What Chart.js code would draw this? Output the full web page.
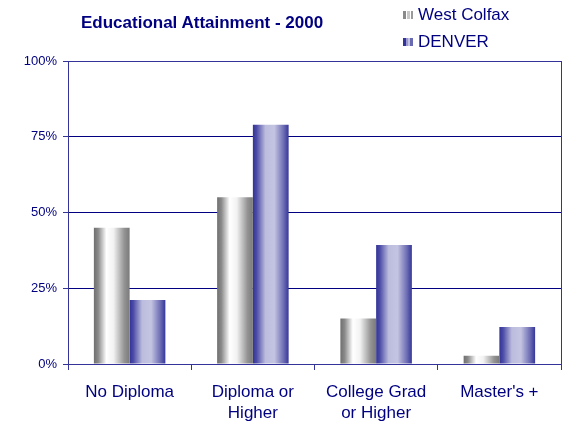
<!DOCTYPE html>
<html>
<head>
<meta charset="utf-8">
<script src="https://cdn.jsdelivr.net/npm/chart.js@4/dist/chart.umd.min.js"></script>
<style>
  html, body { margin: 0; padding: 0; background: #fff; }
  #wrap { position: relative; width: 568px; height: 423px; font-family: Arial, "Liberation Sans", sans-serif; color: #000080; }
  #title { position: absolute; left: 81px; top: 13px; font-size: 17px; font-weight: bold; line-height: 20px; white-space: nowrap; }
  .item { position: absolute; left: 403px; font-size: 17px; line-height: 20px; white-space: nowrap; }
  .item i { display: inline-block; width: 10px; height: 8px; margin-right: 5px; vertical-align: 1px; }
  #lg-wc { top: 5px; }
  #lg-dn { top: 32px; }
  #lg-wc i { background: linear-gradient(to right, #8a8a8a 0 3px, #fff 3px 4px, #c8c8c8 4px 7px, #fff 7px 8px, #9a9a9a 8px 10px); }
  #lg-dn i { background: linear-gradient(to right, #333399 0 3px, #9a9ad0 3px 5px, #c4c4e2 5px 7px, #6a6ab4 7px 10px); }
</style>
</head>
<body>
<div id="wrap">
  <canvas id="chart" width="568" height="423"></canvas>
  <div id="title">Educational Attainment - 2000</div>
  <div class="item" id="lg-wc"><i></i>West Colfax</div>
  <div class="item" id="lg-dn"><i></i>DENVER</div>
</div>
<script>
const categories = ['No Diploma', ['Diploma or', 'Higher'], ['College Grad', 'or Higher'], "Master's +"]
const westColfax = [45, 55, 15, 2.7]
const denver = [21.1, 79, 39.3, 12.2]
const yTicks = [0, 25, 50, 75, 100]

const NAVY = '#000080'
const AXIS = '#333399'

// cylinder-style shading across each bar
const shades = {
  gray: [[0, '#6f6f6f'], [0.12, '#8a8a8a'], [0.35, '#ffffff'], [0.55, '#f2f2f2'], [0.85, '#939393'], [1, '#7a7a7a']],
  blue: [[0, '#333399'], [0.1, '#4a4aa6'], [0.35, '#bcbcde'], [0.6, '#c4c4e2'], [0.85, '#7070b6'], [1, '#363699']],
}

const barShading = {
  id: 'barShading',
  beforeDatasetsDraw(chart) {
    const ctx = chart.ctx
    chart.data.datasets.forEach((ds, i) => {
      const meta = chart.getDatasetMeta(i)
      meta.data.forEach((bar) => {
        const { x, width } = bar.getProps(['x', 'width'], true)
        const g = ctx.createLinearGradient(x - width / 2, 0, x + width / 2, 0)
        shades[ds.shade].forEach(([p, c]) => g.addColorStop(p, c))
        bar.options = Object.assign({}, bar.options, { backgroundColor: g })
      })
    })
  },
}

const plotFrame = {
  id: 'plotFrame',
  afterDraw(chart) {
    const { left, top, right, bottom } = chart.chartArea
    const ctx = chart.ctx
    ctx.save()
    ctx.strokeStyle = AXIS
    ctx.lineWidth = 1
    ctx.strokeRect(Math.round(left) + 0.5, Math.round(top) + 0.5, Math.round(right - left), Math.round(bottom - top))
    ctx.restore()
  },
}

new Chart(document.getElementById('chart'), {
  type: 'bar',
  data: {
    labels: categories,
    datasets: [
      { label: 'West Colfax', data: westColfax, shade: 'gray', backgroundColor: '#bbbbbb' },
      { label: 'DENVER', data: denver, shade: 'blue', backgroundColor: '#8888c4' },
    ],
  },
  options: {
    responsive: false,
    animation: false,
    devicePixelRatio: 1,
    datasets: { bar: { categoryPercentage: 0.58, barPercentage: 1 } },
    layout: { padding: { top: 61, right: 7, left: 0, bottom: 0 } },
    plugins: {
      legend: { display: false },
      title: { display: false },
      tooltip: { enabled: false },
    },
    scales: {
      x: {
        afterFit: (s) => { s.height = 59 },
        grid: { offset: true, drawOnChartArea: false, tickLength: 6, color: AXIS },
        border: { color: AXIS },
        ticks: {
          color: NAVY,
          padding: 12,
          maxRotation: 0,
          font: { family: 'Arial, "Liberation Sans", sans-serif', size: 17, lineHeight: 1.24 },
        },
      },
      y: {
        min: 0,
        max: 100,
        afterFit: (s) => { s.width = 68 },
        afterBuildTicks: (s) => { s.ticks = yTicks.map((v) => ({ value: v })) },
        grid: { color: NAVY, tickColor: AXIS, tickLength: 5 },
        border: { color: AXIS },
        ticks: {
          color: NAVY,
          padding: 6,
          callback: (v) => v + '%',
          font: { family: 'Arial, "Liberation Sans", sans-serif', size: 13 },
        },
      },
    },
  },
  plugins: [barShading, plotFrame],
})
</script>
</body>
</html>
